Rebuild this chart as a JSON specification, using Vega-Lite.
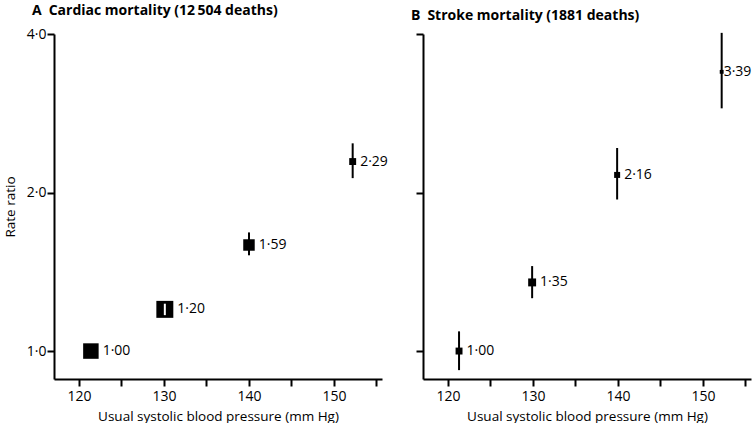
{
  "$schema": "https://vega.github.io/schema/vega-lite/v6.json",
  "padding": {"left": 3, "top": 4, "right": 0, "bottom": 0},
  "background": "white",
  "bounds": "flush",
  "spacing": 41,
  "datasets": {
    "rr": [
      {"panel": "A", "sbp": 121.4, "rr": 1.00, "lo": 0.97, "hi": 1.03, "w": 80, "lab": "1·00"},
      {"panel": "A", "sbp": 130.1, "rr": 1.20, "lo": 1.17, "hi": 1.23, "w": 96, "lab": "1·20"},
      {"panel": "A", "sbp": 140.0, "rr": 1.59, "lo": 1.52, "hi": 1.68, "w": 44, "lab": "1·59"},
      {"panel": "A", "sbp": 152.2, "rr": 2.29, "lo": 2.13, "hi": 2.48, "w": 16, "lab": "2·29"},
      {"panel": "B", "sbp": 121.3, "rr": 1.00, "lo": 0.92, "hi": 1.09, "w": 16, "lab": "1·00"},
      {"panel": "B", "sbp": 129.9, "rr": 1.35, "lo": 1.26, "hi": 1.45, "w": 21, "lab": "1·35"},
      {"panel": "B", "sbp": 139.9, "rr": 2.16, "lo": 1.94, "hi": 2.43, "w": 12, "lab": "2·16"},
      {"panel": "B", "sbp": 152.2, "rr": 3.39, "lo": 2.89, "hi": 4.02, "w": 5, "lab": "3·39"}
    ]
  },
  "config": {
    "view": {"stroke": null},
    "font": "Open Sans",
    "axis": {
      "domainColor": "black", "domainWidth": 2, "tickColor": "black", "tickWidth": 2, "tickSize": 7,
      "labelColor": "black", "titleColor": "black", "labelFontSize": 14, "titleFontSize": 13.5,
      "titleFontWeight": "normal", "grid": false, "labelFont": "Open Sans", "titleFont": "Open Sans"
    },
    "title": {"fontSize": 14, "fontWeight": "bold", "color": "black", "anchor": "start", "frame": "group", "font": "Open Sans", "offset": 9}
  },
  "hconcat": [
    {
      "width": 328, "height": 345,
      "title": {"text": "A\u2002Cardiac mortality (12\u2009504 deaths)", "dx": -22},
      "data": {"name": "rr"},
      "transform": [{"filter": "datum.panel == 'A'"}],
      "layer": [
        {
          "mark": {"type": "rule", "strokeWidth": 2, "color": "black"},
          "encoding": {
            "x": {"field": "sbp", "type": "quantitative", "scale": {"domain": [117.06, 155.65], "nice": false, "zero": false},
              "axis": {"values": [120, 125, 130, 135, 140, 145, 150, 155], "labelExpr": "datum.value % 10 === 0 ? datum.label : ''", "title": "Usual systolic blood pressure (mm Hg)", "labelPadding": 3, "titlePadding": 6}},
            "y": {"field": "lo", "type": "quantitative", "scale": {"type": "log", "domain": [0.885, 4], "nice": false},
              "axis": {"values": [1, 2, 4], "labelExpr": "replace(format(datum.value, '.1f'), '.', '·')", "title": "Rate ratio", "labelPadding": 1, "titlePadding": 9}},
            "y2": {"field": "hi"}
          }
        },
        {
          "mark": {"type": "square", "filled": true, "color": "black", "opacity": 1},
          "encoding": {
            "x": {"field": "sbp", "type": "quantitative"},
            "y": {"field": "rr", "type": "quantitative"},
            "size": {"field": "w", "type": "quantitative", "scale": {"type": "linear", "domain": [0, 100], "range": [0, 300]}, "legend": null}
          }
        },
        {
          "transform": [{"filter": "datum.w > 90"}],
          "mark": {"type": "rule", "strokeWidth": 2, "color": "white"},
          "encoding": {
            "x": {"field": "sbp", "type": "quantitative"},
            "y": {"field": "lo", "type": "quantitative"},
            "y2": {"field": "hi"}
          }
        },
        {
          "mark": {"type": "text", "align": "left", "baseline": "middle", "fontSize": 14, "color": "black", "dx": {"expr": "sqrt(datum.w * 3) / 2 + 4"}},
          "encoding": {
            "x": {"field": "sbp", "type": "quantitative"},
            "y": {"field": "rr", "type": "quantitative"},
            "text": {"field": "lab"}
          }
        }
      ]
    },
    {
      "width": 328, "height": 345,
      "title": {"text": "B\u2002Stroke mortality (1881 deaths)", "dx": -12},
      "data": {"name": "rr"},
      "transform": [{"filter": "datum.panel == 'B'"}],
      "layer": [
        {
          "mark": {"type": "rule", "strokeWidth": 2, "color": "black"},
          "encoding": {
            "x": {"field": "sbp", "type": "quantitative", "scale": {"domain": [117.06, 155.65], "nice": false, "zero": false},
              "axis": {"values": [120, 125, 130, 135, 140, 145, 150, 155], "labelExpr": "datum.value % 10 === 0 ? datum.label : ''", "title": "Usual systolic blood pressure (mm Hg)", "labelPadding": 3, "titlePadding": 6}},
            "y": {"field": "lo", "type": "quantitative", "scale": {"type": "log", "domain": [0.885, 4], "nice": false},
              "axis": {"values": [1, 2, 4], "labels": false, "title": null}},
            "y2": {"field": "hi"}
          }
        },
        {
          "mark": {"type": "square", "filled": true, "color": "black", "opacity": 1},
          "encoding": {
            "x": {"field": "sbp", "type": "quantitative"},
            "y": {"field": "rr", "type": "quantitative"},
            "size": {"field": "w", "type": "quantitative", "scale": {"type": "linear", "domain": [0, 100], "range": [0, 300]}, "legend": null}
          }
        },
        {
          "mark": {"type": "text", "align": "left", "baseline": "middle", "fontSize": 14, "color": "black", "dx": {"expr": "datum.w < 8 ? 2 : sqrt(datum.w * 3) / 2 + 4"}},
          "encoding": {
            "x": {"field": "sbp", "type": "quantitative"},
            "y": {"field": "rr", "type": "quantitative"},
            "text": {"field": "lab"}
          }
        }
      ]
    }
  ]
}
